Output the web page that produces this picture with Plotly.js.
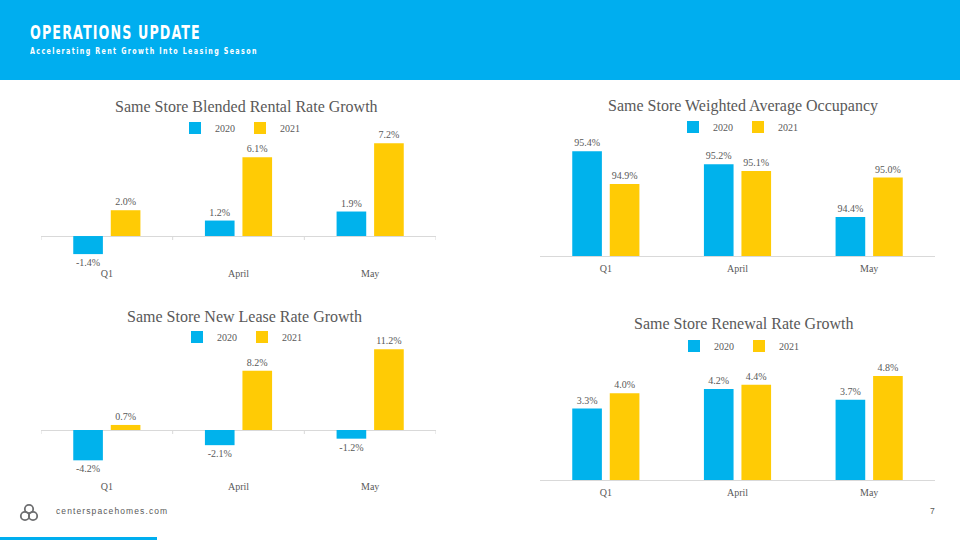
<!DOCTYPE html>
<html>
<head>
<meta charset="utf-8">
<script src="https://cdn.plot.ly/plotly-3.0.1.min.js"></script>
<style>
  html, body { margin:0; padding:0; width:960px; height:540px; overflow:hidden; background:#ffffff; }
  #header { position:absolute; left:0; top:0; width:960px; height:80px; background:#00AEEF; }
  #h1 { position:absolute; left:30px; top:20px; color:#fff; font-family:"DejaVu Sans Condensed","DejaVu Sans",sans-serif; font-weight:bold; font-size:20px; letter-spacing:1.6px; white-space:nowrap; line-height:24px; transform:scaleX(0.705); transform-origin:0 0; }
  #h2 { position:absolute; left:30px; top:45px; color:#fff; font-family:"DejaVu Sans Condensed","DejaVu Sans",sans-serif; font-weight:bold; font-size:9.5px; letter-spacing:1.9px; white-space:nowrap; line-height:12px; transform:scaleX(0.74); transform-origin:0 0; }
  #footer-logo { position:absolute; left:19px; top:503px; }
  #footer-text { position:absolute; left:56px; top:505px; color:#595959; font-family:"Liberation Sans","DejaVu Sans",sans-serif; font-size:8.5px; letter-spacing:1.1px; line-height:12px; white-space:nowrap; }
  #page-num { position:absolute; left:930px; top:505px; color:#595959; font-family:"Liberation Sans",sans-serif; font-size:8.5px; line-height:12px; }
  #footer-bar { position:absolute; left:0; top:537px; width:157px; height:3px; background:#00AEEF; }
  #chart { position:absolute; left:0; top:0; width:960px; height:540px; }
</style>
</head>
<body>
<div id="header">
  <div id="h1">OPERATIONS UPDATE</div>
  <div id="h2">Accelerating Rent Growth Into Leasing Season</div>
</div>
<svg id="footer-logo" width="20" height="20" viewBox="0 0 20 20">
  <g fill="none" stroke="#6d6e70" stroke-width="1.8">
    <circle cx="10" cy="6" r="4.2"/>
    <circle cx="6" cy="13" r="4.2"/>
    <circle cx="14" cy="13" r="4.2"/>
  </g>
</svg>
<div id="footer-text">centerspacehomes.com</div>
<div id="page-num">7</div>
<div id="footer-bar"></div>
<div id="chart"></div>
<script>
// ---- data ----
const categories = ['Q1', 'April', 'May'];
const seriesNames = ['2020', '2021'];
const chartTitles = [
  'Same Store Blended Rental Rate Growth',
  'Same Store Weighted Average Occupancy',
  'Same Store New Lease Rate Growth',
  'Same Store Renewal Rate Growth'
];
const blended2020 = [-1.4, 1.2, 1.9];
const blended2021 = [2.0, 6.1, 7.2];
const occupancy2020 = [95.4, 95.2, 94.4];
const occupancy2021 = [94.9, 95.1, 95.0];
const newLease2020 = [-4.2, -2.1, -1.2];
const newLease2021 = [0.7, 8.2, 11.2];
const renewal2020 = [3.3, 4.2, 3.7];
const renewal2021 = [4.0, 4.4, 4.8];

// ---- styling / layout ----
const W = 960, H = 540;
const BLUE = '#00B2EC', YELLOW = '#FFCB05', GREY = '#595959', AXIS = '#D9D9D9';
const SERIF = '"Liberation Serif", "DejaVu Serif", serif';
const px2x = p => p / W;
const px2y = p => 1 - p / H;

const panels = [
  { data: [blended2020, blended2021], xd: [41, 436], yd: [135, 263], range: [-2.09, 7.83], zeroAxis: true, legendPos: [240, 128], titlePos: [247, 106], clip: false },
  { data: [occupancy2020, occupancy2021], xd: [540, 935], yd: [132, 256], range: [93.81, 95.69], zeroAxis: false, legendPos: [738, 127], titlePos: [743, 106], clip: true },
  { data: [newLease2020, newLease2021], xd: [41, 436], yd: [343, 476], range: [-6.37, 12.05], zeroAxis: true, legendPos: [242, 337], titlePos: [244, 316], clip: false },
  { data: [renewal2020, renewal2021], xd: [540, 935], yd: [360, 480], range: [0, 5.54], zeroAxis: false, legendPos: [739, 346], titlePos: [744, 323], clip: true }
];
const colors = [BLUE, YELLOW];

const traces = [];
const layout = {
  width: W, height: H,
  margin: { l: 0, r: 0, t: 0, b: 0 },
  paper_bgcolor: 'rgba(0,0,0,0)',
  plot_bgcolor: 'rgba(0,0,0,0)',
  barmode: 'group',
  bargap: 0.43,
  bargroupgap: 0.21,
  showlegend: true,
  annotations: [],
  shapes: [],
  font: { family: SERIF, color: GREY }
};

panels.forEach((p, i) => {
  const n = i === 0 ? '' : String(i + 1);
  const xa = 'x' + n, ya = 'y' + n;
  const legendId = 'legend' + n;
  seriesNames.forEach((s, k) => {
    const vals = p.data[k];
    traces.push({
      type: 'bar',
      x: categories,
      y: vals,
      name: s,
      xaxis: xa, yaxis: ya,
      legend: legendId,
      marker: { color: colors[k], line: { width: 0 } },
      text: vals.map(v => v.toFixed(1) + '%'),
      textposition: 'outside',
      textfont: { family: SERIF, size: 10, color: GREY },
      cliponaxis: p.clip,
      hoverinfo: 'skip'
    });
  });
  layout['xaxis' + n] = {
    domain: [px2x(p.xd[0]), px2x(p.xd[1])],
    anchor: ya,
    type: 'category',
    range: [-0.5, categories.length - 0.5],
    showgrid: false, zeroline: false,
    showline: !p.zeroAxis, linecolor: AXIS, linewidth: 1,
    ticks: '',
    ticklabelstandoff: 3,
    tickfont: { family: SERIF, size: 10, color: GREY },
    fixedrange: true
  };
  layout['yaxis' + n] = {
    domain: [px2y(p.yd[1]), px2y(p.yd[0])],
    anchor: xa,
    range: p.range,
    showgrid: false,
    showticklabels: false,
    ticks: '',
    zeroline: p.zeroAxis, zerolinecolor: AXIS, zerolinewidth: 1,
    fixedrange: true
  };
  layout[legendId] = {
    orientation: 'h',
    x: px2x(p.legendPos[0]), y: px2y(p.legendPos[1]),
    xanchor: 'center', yanchor: 'middle',
    font: { family: SERIF, size: 10, color: GREY },
    itemwidth: 30,
    bgcolor: 'rgba(0,0,0,0)',
    itemclick: false, itemdoubleclick: false
  };
  layout.annotations.push({
    text: chartTitles[i],
    xref: 'paper', yref: 'paper',
    x: px2x(p.titlePos[0]), y: px2y(p.titlePos[1]),
    xanchor: 'center', yanchor: 'middle',
    showarrow: false,
    font: { family: SERIF, size: 16, color: GREY }
  });
  if (p.zeroAxis) {
    for (let c = 0; c <= categories.length; c++) {
      layout.shapes.push({
        type: 'line', xref: xa, yref: ya,
        ysizemode: 'pixel', yanchor: 0,
        x0: c - 0.5, x1: c - 0.5, y0: 0, y1: -4,
        line: { color: AXIS, width: 1 }
      });
    }
  }
});

Plotly.newPlot('chart', traces, layout, { displayModeBar: false, staticPlot: true });
</script>
</body>
</html>
